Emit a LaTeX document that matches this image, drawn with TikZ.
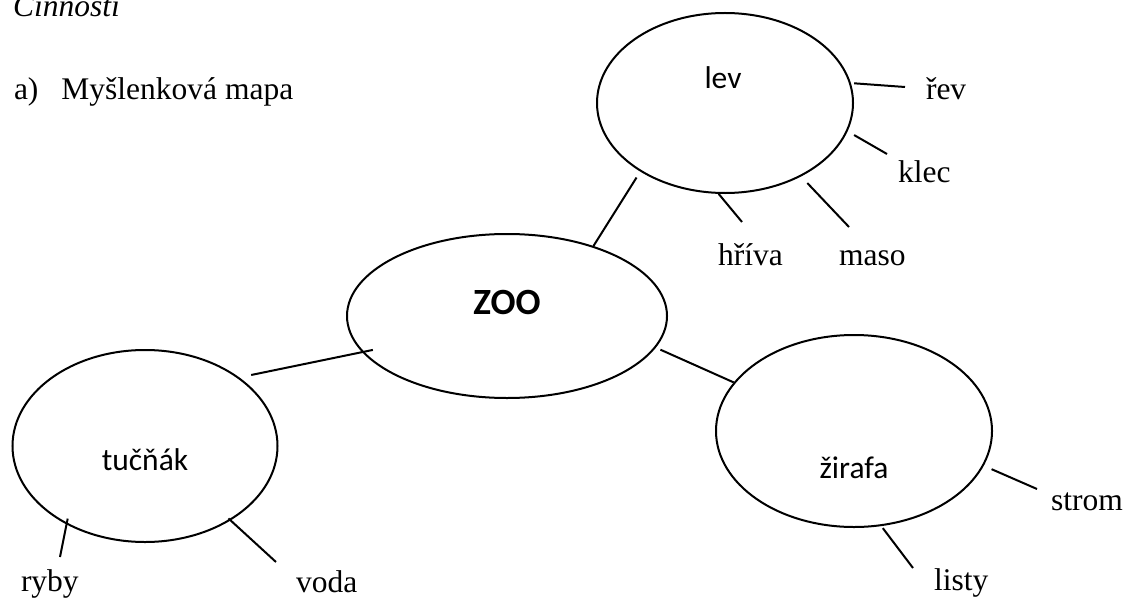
\documentclass[tikz,border=0pt]{standalone}
\usepackage{fontspec}
\setmainfont{Liberation Serif}
\newfontfamily\carlito{Carlito}
\usetikzlibrary{shapes.geometric}

\begin{document}
\begin{tikzpicture}[
    x=0.4pt, y=-0.4pt,
    line width=0.8pt,
    topic/.style={draw, ellipse, inner sep=0pt},
    lbl/.style={font=\carlito\fontsize{12.6}{15}\selectfont, anchor=base},
    word/.style={font=\fontsize{12.6}{15}\selectfont, anchor=base west, inner sep=0pt}
]
  \useasboundingbox (0,0) rectangle (1125,599);

  \node[word, font=\itshape\fontsize{12.6}{15}\selectfont] (title) at (12,17) {Činnosti};
  \node[word] (heading) at (13,100) {a)\hspace{9.2pt}Myšlenková mapa};

  % topics
  \node[topic, minimum width=128pt, minimum height=65.6pt,
        label={[lbl, font=\carlito\bfseries\fontsize{14.8}{18}\selectfont, yshift=5.6pt]center:ZOO}] (zoo) at (507,316) {};
  \node[topic, minimum width=102.4pt, minimum height=72pt,
        label={[lbl, yshift=10pt, xshift=-0.8pt]center:lev}] (lev) at (725,103) {};
  \node[topic, minimum width=106pt, minimum height=76.8pt,
        label={[lbl, yshift=-5.6pt]center:tučňák}] (tucnak) at (145,446) {};
  \node[topic, minimum width=110.4pt, minimum height=76.8pt,
        label={[lbl, yshift=-14.8pt]center:žirafa}] (zirafa) at (854,431) {};

  \draw[shorten >=2.8pt] (zoo.39) -- (lev.219);
  \draw[shorten <=-4.4pt, shorten >=4.8pt] (zoo.194) -- (tucnak.36);
  \draw[shorten <=2pt] (zoo.348) -- (zirafa.158);

  % words
  \node[word] (rev) at (925,100) {řev};
  \node[word] (klec) at (897,182) {klec};
  \node[word] (hriva) at (717,265) {hříva};
  \node[word] (maso) at (838,265) {maso};
  \node[word] (ryby) at (20,591) {ryby};
  \node[word] (voda) at (295,592) {voda};
  \node[word] (strom) at (1050,510) {strom};
  \node[word] (listy) at (933,590) {listy};

  \coordinate (rev-end) at (905,87);
  \coordinate (klec-end) at (887,154);
  \coordinate (hriva-end) at (742,222);
  \coordinate (maso-end) at (849,227);
  \coordinate (ryby-end) at (60,557);
  \coordinate (voda-end) at (276,562);
  \coordinate (strom-end) at (1037,489);
  \coordinate (listy-end) at (913,568);

  \draw[shorten <=1.3pt] (lev.9) -- (rev-end);
  \draw[shorten <=3pt] (lev.347) -- (klec-end);
  \draw (lev.266) -- (hriva-end);
  \draw[shorten <=3.6pt] (lev.316) -- (maso-end);
  \draw[shorten <=-2.4pt] (tucnak.225) -- (ryby-end);
  \draw[shorten <=-1.2pt] (tucnak.319) -- (voda-end);
  \draw[shorten <=3.4pt] (zirafa.345) -- (strom-end);
  \draw[shorten <=1pt] (zirafa.286) -- (listy-end);
\end{tikzpicture}
\end{document}
